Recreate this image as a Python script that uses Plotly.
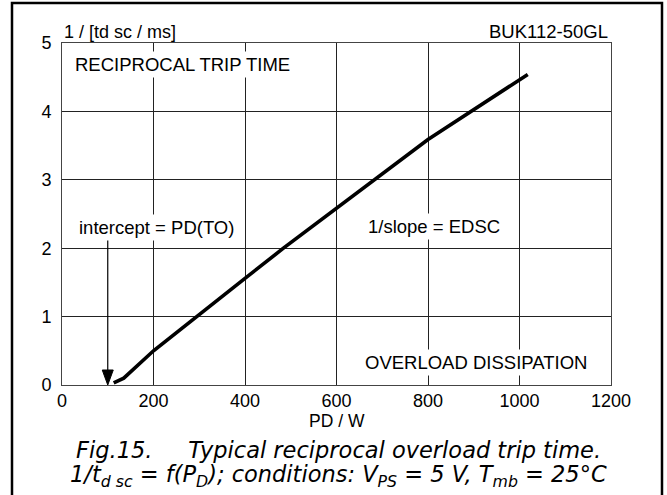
import plotly.graph_objects as go

# Data
pd_w = [113, 135, 200, 293, 400, 484, 600, 800, 1018]
recip_trip = [0.03, 0.10, 0.50, 1.00, 1.56, 2.00, 2.58, 3.59, 4.54]

x_ticks = [0, 200, 400, 600, 800, 1000, 1200]
y_ticks = [0, 1, 2, 3, 4, 5]

intercept_pd = 100
intercept_arrow_top = 2.16

FONT = "Liberation Sans, Arial, sans-serif"
CAP_FONT = "DejaVu Sans, sans-serif"

W, H = 667, 495
ML, MR, MT, MB = 62, 56, 43, 110
pw, ph = W - ML - MR, H - MT - MB


def px_x(p):
    return (p - ML) / pw


def px_y(p):
    return (H - MB - p) / ph


fig = go.Figure()
fig.add_trace(go.Scatter(
    x=pd_w, y=recip_trip, mode="lines",
    line=dict(color="black", width=3.6),
    hoverinfo="skip", showlegend=False,
))

fig.update_layout(
    width=W, height=H,
    margin=dict(l=ML, r=MR, t=MT, b=MB, pad=0),
    paper_bgcolor="white", plot_bgcolor="white",
    font=dict(family=FONT, size=18, color="black"),
    showlegend=False,
    xaxis=dict(range=[0, 1200], tickvals=x_ticks, ticks="", showgrid=True,
               gridcolor="#222", gridwidth=1, zeroline=False,
               showline=True, linecolor="#444", linewidth=1, mirror=True,
               tickfont=dict(size=18), ticklabelstandoff=-1, fixedrange=True),
    yaxis=dict(range=[0, 5], tickvals=y_ticks, ticks="", showgrid=True,
               gridcolor="#222", gridwidth=1, zeroline=False,
               showline=True, linecolor="#444", linewidth=1, mirror=True,
               tickfont=dict(size=18), ticklabelstandoff=6, fixedrange=True),
)

# Outer frame
fig.add_shape(type="rect", xref="paper", yref="paper",
              x0=px_x(12), x1=px_x(662), y0=px_y(3), y1=px_y(520),
              line=dict(color="black", width=2.5), layer="above")

# Intercept arrow
fig.add_shape(type="line", xref="x", yref="y",
              x0=intercept_pd, x1=intercept_pd, y0=0.15, y1=intercept_arrow_top,
              line=dict(color="black", width=1.2))
fig.add_shape(type="path", xref="x", yref="y",
              xsizemode="pixel", ysizemode="pixel",
              xanchor=intercept_pd, yanchor=0,
              path="M -5.5 15 L 5.5 15 L 0 0 Z",
              fillcolor="black", line=dict(color="black", width=1))


def label(text, x, y, xanchor):
    fig.add_annotation(text=text, x=x, y=y, xref="x", yref="y",
                       xanchor=xanchor, yanchor="middle", showarrow=False,
                       bgcolor="white", borderpad=2,
                       font=dict(size=18.5, family=FONT))


label("RECIPROCAL TRIP TIME", 22, 4.68, "left")
label("intercept = PD(TO)", 30, 2.31, "left")
label("1/slope = EDSC", 662, 2.32, "left")
label("OVERLOAD DISSIPATION", 1155, 0.33, "right")

fig.add_annotation(text="1 / [td sc / ms]", xref="paper", yref="paper",
                   x=0, y=px_y(31.7), xanchor="left", yanchor="middle",
                   showarrow=False, font=dict(size=18, family=FONT))
fig.add_annotation(text="BUK112-50GL", xref="paper", yref="paper",
                   x=px_x(610), y=px_y(31.7), xanchor="right", yanchor="middle",
                   showarrow=False, font=dict(size=18.5, family=FONT))
fig.add_annotation(text="PD / W", xref="paper", yref="paper",
                   x=0.5, y=px_y(420.5), xanchor="center", yanchor="middle",
                   showarrow=False, font=dict(size=17.5, family=FONT))

fig.add_annotation(text="Fig.15.     Typical reciprocal overload trip time.",
                   xref="paper", yref="paper", x=px_x(338), y=px_y(450),
                   xanchor="center", yanchor="middle", showarrow=False,
                   font=dict(size=22.5, family=CAP_FONT, style="italic"))
fig.add_annotation(text="1/t<sub>d sc</sub> = f(P<sub>D</sub>); conditions: V<sub>PS</sub> = 5 V, T<sub>mb</sub> = 25°C",
                   xref="paper", yref="paper", x=px_x(338), y=px_y(476),
                   xanchor="center", yanchor="middle", showarrow=False,
                   font=dict(size=22.5, family=CAP_FONT, style="italic"))

fig.write_html("out.html", config={"displayModeBar": False})
